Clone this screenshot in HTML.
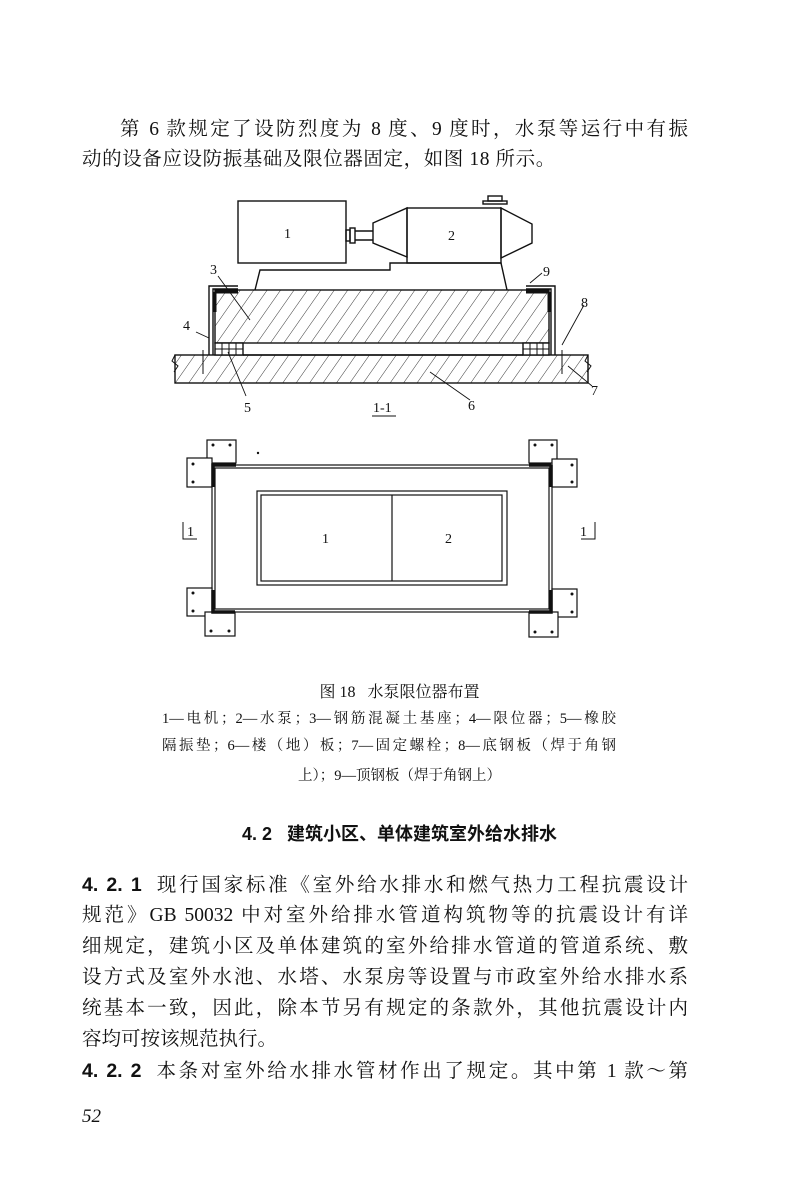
<!DOCTYPE html>
<html><head><meta charset="utf-8"><style>
html,body{margin:0;padding:0;background:#fff;}
body{width:799px;height:1194px;position:relative;overflow:hidden;font-family:"Liberation Serif","Noto Serif CJK SC",serif;color:#111;}
.l{position:absolute;left:82px;width:606px;font-size:19.5px;line-height:24px;white-space:nowrap;text-align:justify;text-align-last:justify;}
.c{position:absolute;left:0;width:799px;text-align:center;white-space:nowrap;}
.lg{position:absolute;left:162px;width:454px;font-size:14.5px;line-height:18px;white-space:nowrap;text-align:justify;text-align-last:justify;}
b{font-family:"Liberation Sans","Noto Sans CJK SC",sans-serif;}
</style></head><body>
<div class="l" style="top:118px;left:120px;width:568px">第 6 款规定了设防烈度为 8 度、9 度时，水泵等运行中有振</div>
<div class="l" style="top:148px;text-align-last:left;letter-spacing:0.6px">动的设备应设防振基础及限位器固定，如图 18 所示。</div>

<svg style="position:absolute;left:0;top:0" width="799" height="660" viewBox="0 0 799 660">
<defs>
<pattern id="h" width="11" height="11" patternUnits="userSpaceOnUse" patternTransform="rotate(35)">
<line x1="0" y1="0" x2="0" y2="11" stroke="#222" stroke-width="0.9"/>
</pattern>
</defs>
<g fill="none" stroke="#111" stroke-width="1.4">
<rect x="238" y="201" width="108" height="62" fill="#fff"/>
<rect x="346" y="230" width="4" height="11"/>
<rect x="350" y="228" width="5" height="15"/>
<line x1="355" y1="231" x2="373" y2="231"/><line x1="355" y1="240" x2="373" y2="240"/>
<polygon points="373,223 407,208 407,257 373,243"/>
<rect x="407" y="208" width="94" height="55"/>
<polygon points="501,208 532,224 532,243 501,258"/>
<rect x="488" y="196" width="14" height="5"/><rect x="483" y="201" width="24" height="3"/>
<polyline points="255,290 260,270 390,270 390,263 501,263 507,290"/>
<rect x="215" y="290" width="334" height="53" fill="url(#h)"/>
<rect x="175" y="355" width="413" height="28" fill="url(#h)"/>
<line x1="243" y1="355" x2="523" y2="355"/>
<polyline points="238,286 209,286 209,355"/><polyline points="238,289 213,289 213,355"/>
<polyline points="526,286 555,286 555,355"/><polyline points="526,289 551,289 551,355"/>
<rect x="215" y="343" width="28" height="12" fill="#fff"/>
<rect x="523" y="343" width="26" height="12" fill="#fff"/>
<path d="M222 343v12M229 343v12M236 343v12M215 349h28M530 343v12M537 343v12M543 343v12M523 349h26" stroke-width="1"/>
<path d="M215 292h23M215 292v20" stroke-width="3"/><path d="M549 292h-23M549 292v20" stroke-width="3"/>
<path d="M175 355l-3 6 6 5-4 6M588 355l-3 6 6 5-4 6" stroke-width="1"/>
<line x1="203" y1="350" x2="203" y2="374" stroke-width="1"/><line x1="562" y1="350" x2="562" y2="374" stroke-width="1"/>
<path d="M218 276l32 44M228 352l18 44M562 345l22-40M196 332l13 6M530 283l12-10M568 366l24 20M430 372l40 28" stroke-width="0.9"/>
<line x1="372" y1="416" x2="396" y2="416" stroke-width="1"/>
</g>
<g font-family="Liberation Serif,serif" font-size="14" fill="#111">
<text x="284" y="238">1</text><text x="448" y="240">2</text>
<text x="210" y="274">3</text><text x="543" y="276">9</text><text x="581" y="307">8</text>
<text x="183" y="330">4</text><text x="244" y="412">5</text><text x="468" y="410">6</text><text x="591" y="395">7</text>
<text x="373" y="412">1-1</text>
</g>
<g fill="none" stroke="#111" stroke-width="1.2">
<rect x="212" y="465" width="340" height="147"/><rect x="215" y="468" width="334" height="141"/>
<rect x="257" y="491" width="250" height="94"/><rect x="261" y="495" width="241" height="86"/>
<line x1="392" y1="495" x2="392" y2="581"/>
<rect x="207" y="440" width="29" height="23" fill="#fff"/><rect x="187" y="458" width="25" height="29" fill="#fff"/>
<rect x="529" y="440" width="28" height="23" fill="#fff"/><rect x="552" y="459" width="25" height="28" fill="#fff"/>
<rect x="187" y="588" width="25" height="28" fill="#fff"/><rect x="205" y="612" width="30" height="24" fill="#fff"/>
<rect x="552" y="589" width="25" height="28" fill="#fff"/><rect x="529" y="612" width="29" height="25" fill="#fff"/>
<path d="M213 487v-22h23M551 465h-22M551 465v22M213 590v22h22M551 590v22h-22" stroke-width="3.5"/>
<path d="M183 522v17h14M595 522v17h-14" stroke-width="1"/>
</g>
<g fill="#111">
<circle cx="213" cy="445" r="1.5"/><circle cx="230" cy="445" r="1.5"/><circle cx="193" cy="464" r="1.5"/><circle cx="193" cy="482" r="1.5"/>
<circle cx="535" cy="445" r="1.5"/><circle cx="552" cy="445" r="1.5"/><circle cx="572" cy="465" r="1.5"/><circle cx="572" cy="482" r="1.5"/>
<circle cx="193" cy="593" r="1.5"/><circle cx="193" cy="611" r="1.5"/><circle cx="211" cy="631" r="1.5"/><circle cx="229" cy="631" r="1.5"/>
<circle cx="572" cy="594" r="1.5"/><circle cx="572" cy="612" r="1.5"/><circle cx="535" cy="632" r="1.5"/><circle cx="552" cy="632" r="1.5"/>
<circle cx="258" cy="453" r="1.2"/>
</g>
<g font-family="Liberation Serif,serif" font-size="14" fill="#111">
<text x="322" y="543">1</text><text x="445" y="543">2</text>
<text x="187" y="536">1</text><text x="580" y="536">1</text>
</g>
</svg>

<div class="c" style="top:679px;font-size:16px;">图 18&nbsp;&nbsp;&nbsp;水泵限位器布置</div>
<div class="lg" style="top:710px">1—电机；2—水泵；3—钢筋混凝土基座；4—限位器；5—橡胶</div>
<div class="lg" style="top:737px">隔振垫；6—楼（地）板；7—固定螺栓；8—底钢板（焊于角钢</div>
<div class="c" style="top:764px;font-size:14.5px;">上）；9—顶钢板（焊于角钢上）</div>
<div class="c" style="top:820px;font-size:18px;font-weight:bold;font-family:'Liberation Sans','Noto Sans CJK SC',sans-serif;">4. 2&nbsp;&nbsp;&nbsp;建筑小区、单体建筑室外给水排水</div>

<div class="l" style="top:873px"><b>4. 2. 1</b>&nbsp;&nbsp;现行国家标准《室外给水排水和燃气热力工程抗震设计</div>
<div class="l" style="top:904px">规范》GB 50032 中对室外给排水管道构筑物等的抗震设计有详</div>
<div class="l" style="top:935px">细规定，建筑小区及单体建筑的室外给排水管道的管道系统、敷</div>
<div class="l" style="top:966px">设方式及室外水池、水塔、水泵房等设置与市政室外给水排水系</div>
<div class="l" style="top:997px">统基本一致，因此，除本节另有规定的条款外，其他抗震设计内</div>
<div class="l" style="top:1028px;text-align-last:left">容均可按该规范执行。</div>
<div class="l" style="top:1059px"><b>4. 2. 2</b>&nbsp;&nbsp;本条对室外给水排水管材作出了规定。其中第 1 款～第</div>
<div style="position:absolute;left:82px;top:1106px;font-size:19px;font-style:italic;">52</div>
</body></html>
